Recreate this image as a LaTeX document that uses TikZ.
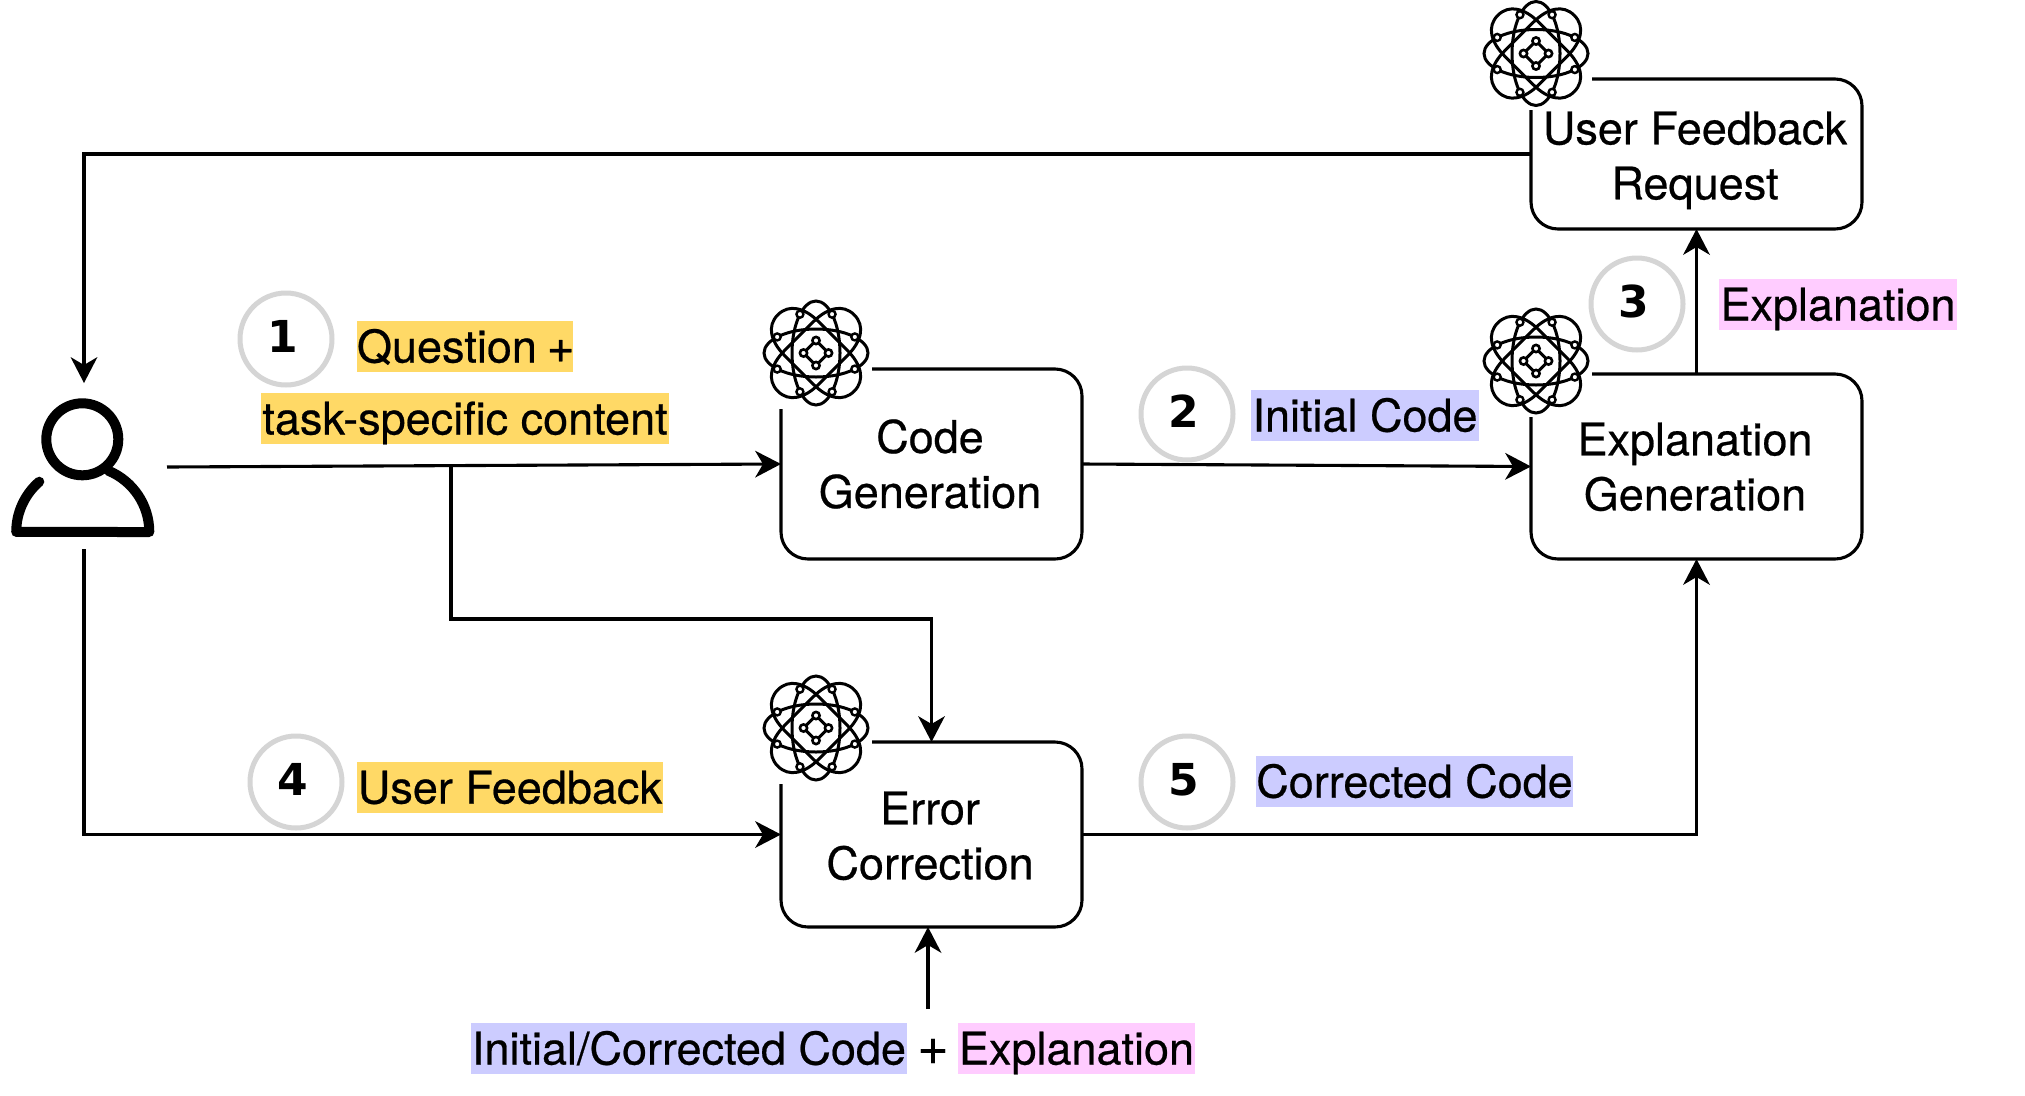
\documentclass[tikz,border=0pt]{standalone}
\usepackage{fontspec}
\setmainfont{TeX Gyre Heros}[FakeBold=0.5]
\newfontfamily\numfont{DejaVu Sans}
\usetikzlibrary{arrows.meta}
\definecolor{hlyellow}{HTML}{FFD966}
\definecolor{hlblue}{HTML}{CCCCFF}
\definecolor{hlpink}{HTML}{FFCCFF}
\definecolor{ringgray}{HTML}{D5D5D5}
\tikzset{
  txt/.style={font=\fontsize{45}{55}\selectfont},
  procbox/.style={draw=black,line width=3.1pt,rounded corners=27pt,fill=white,inner sep=0pt,outer sep=0pt,align=center,txt},
  conn/.style={draw=black,line width=3.1pt,-{Stealth[length=26pt,width=27pt,inset=8pt,line width=0pt]}},
  hl/.style={inner sep=0pt,outer sep=0pt,minimum height=51pt,text height=41.5pt,text depth=9.5pt,txt},
  ring/.style={circle,draw=ringgray,line width=5pt,fill=white,minimum size=92pt,inner sep=0pt,outer sep=0pt,font=\numfont\bfseries\fontsize{44}{44}\selectfont},
  iconbg/.style={fill=white,inner sep=0pt,outer sep=0pt,minimum size=112pt},
  personline/.style={line width=10pt,line join=round,line cap=round},
  atom/.pic={
    \foreach \a in {0,90}{
      \draw[line width=3pt,rotate=\a] (0,0) ellipse [x radius=52pt,y radius=24pt];
    }
    \foreach \a in {45,135}{
      \draw[line width=3pt,rotate=\a] (54pt,0pt) .. controls (54pt,16pt) and (40pt,24pt) .. (20pt,24pt)
        -- (-20pt,24pt) .. controls (-40pt,24pt) and (-54pt,16pt) .. (-54pt,0pt)
        .. controls (-54pt,-16pt) and (-40pt,-24pt) .. (-20pt,-24pt)
        -- (20pt,-24pt) .. controls (40pt,-24pt) and (54pt,-16pt) .. (54pt,0pt) -- cycle;
    }
    \draw[line width=3pt,rounded corners=3pt] (12.5pt,0pt) -- (0pt,12.5pt) -- (-12.5pt,0pt) -- (0pt,-12.5pt) -- cycle;
    \foreach \a in {0,90,180,270}{
      \draw[line width=2.6pt,fill=white] (\a:12.5pt) circle (3.6pt);
    }
    \foreach \a in {22.5,67.5,...,337.5}{
      \draw[line width=2.4pt,fill=white] (\a:42pt) circle (3.5pt);
    }
  }
}
\newcommand{\ringnum}[1]{\hspace*{-7pt}\raisebox{2.2pt}[32pt][0pt]{#1}}
\newcommand{\bigplus}{\scalebox{1.2}{+}}
\newcommand{\trimr}{\hspace*{3pt}}
\begin{document}
\begin{tikzpicture}[x=1pt,y=-1pt]
\fill[white] (0,0) rectangle (2025,1095);
\useasboundingbox (0,0) rectangle (2025,1095);

% highlighted labels
\node[hl,fill=hlyellow,minimum width=216pt] (lq) at (465,346.5) {\makebox[216pt][l]{Question\hspace{10pt}\scalebox{1.05}{+}}};
\node[hl,fill=hlyellow,minimum width=408pt] (lt) at (465,418.5) {task-specific content};
\node[hl,fill=hlyellow,minimum width=306pt] (lu) at (510,787.5) {User Feedback};
\node[hl,fill=hlblue,minimum width=228pt] (li) at (1365,415.5) {Initial Code};
\node[hl,fill=hlblue,minimum width=315pt] (lc) at (1414.5,781.5) {Corrected Code};
\node[hl,fill=hlpink,minimum width=238pt] (le) at (1838,304.5) {Explanation};
\node[hl,fill=hlblue,minimum width=436pt] (lb) at (689,1048.5) {Initial/Corrected Code};
\node[hl] (lp) at (933,1048.5) {\bigplus};
\node[hl,fill=hlpink,minimum width=237pt] (lx) at (1076.5,1048.5) {Explanation};

% process boxes
\node[procbox,minimum width=301pt,minimum height=190pt] (code) at (931.5,464) {\rule{0pt}{33.5pt}Code\trimr\\Generation\trimr};
\node[procbox,minimum width=301pt,minimum height=185pt] (err) at (931.5,834.5) {\rule{0pt}{35.5pt}Error\trimr\\Correction\trimr};
\node[procbox,minimum width=331pt,minimum height=185pt] (expl) at (1696.5,466.5) {\rule{0pt}{33.5pt}Explanation\trimr\\Generation\trimr};
\node[procbox,minimum width=331pt,minimum height=150pt] (fb) at (1696.5,154) {\rule{0pt}{45.5pt}User Feedback\trimr\\Request\trimr};

% person
\node[inner sep=0pt,outer sep=0pt,minimum width=145pt,minimum height=140pt] (user) at (82.5,468) {};
\draw[personline] (82.3,439.3) circle (36pt);
\draw[personline] (39.3,481.7) arc[start angle=130.7,end angle=180,radius=66.3pt]
   -- (149.3,532) arc[start angle=0,end angle=67.4,radius=66.3pt];
\coordinate (userT) at (84,383);
\coordinate (userR) at (167,467);
\coordinate (userB) at (84,549);

% free ends
\coordinate (branch) at (451,466);
\coordinate (bend) at (451,619);
\coordinate (botin) at (928,1009);

% connectors
\draw[conn] (userR) -- (code.west);
\draw[conn] (code.east) -- (expl.west);
\draw[conn] (expl.north) -- (fb.south);
\draw[conn] (fb.west) -| (userT);
\draw[conn] (err.east) -| (expl.south);
\draw[conn] (userB) |- (err.west);
\draw[conn] (branch) -- (bend) -| (err.north);
\draw[conn] (botin) -- (botin |- err.south);

% atom icons
\node[iconbg] (icode) at (816,353) {};
\node[iconbg] (ierr) at (816,728) {};
\node[iconbg] (iexpl) at (1536,361) {};
\node[iconbg] (ifb) at (1536,53.5) {};
\pic at (icode) {atom};
\pic at (ierr) {atom};
\pic at (iexpl) {atom};
\pic at (ifb) {atom};

% numbered rings
\node[ring] (n1) at (286,339) {\ringnum{1}};
\node[ring] (n2) at (1187,414) {\ringnum{2}};
\node[ring] (n3) at (1637,304) {\ringnum{3}};
\node[ring] (n4) at (296,782) {\ringnum{4}};
\node[ring] (n5) at (1187,782) {\ringnum{5}};
\end{tikzpicture}
\end{document}
